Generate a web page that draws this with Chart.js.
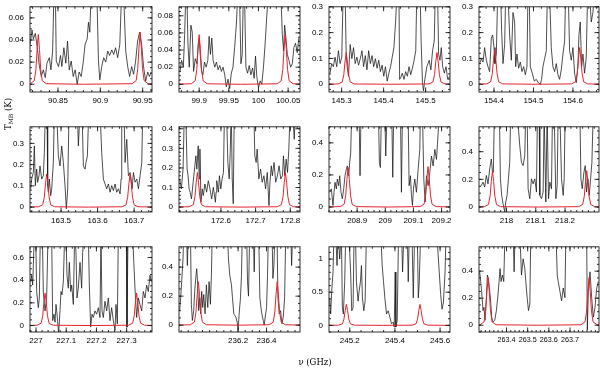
<!DOCTYPE html>
<html><head><meta charset="utf-8">
<script src="https://cdn.jsdelivr.net/npm/chart.js@4.4.1/dist/chart.umd.min.js"></script>
<style>
html,body{margin:0;padding:0;width:600px;height:368px;overflow:hidden;background:#fff;position:relative;}
canvas{position:absolute;}
.t{position:absolute;font-family:"DejaVu Serif",serif;font-size:8.5px;color:#000;white-space:nowrap;text-align:center;opacity:0.99;will-change:transform;}
.t sub{font-size:6px;vertical-align:-2px;}
</style></head><body>
<div class="t" style="left:-22px;top:108px;width:60px;height:12px;line-height:12px;transform:rotate(-90deg);">T<sub>MB</sub> (K)</div>
<div class="t" style="left:285px;top:356px;width:60px;height:12px;line-height:12px;">ν (GHz)</div>
<script>
// ---------- observed spectra [frequency GHz, T_MB K] ----------
const spec1 = [[90.8171,0.036],[90.8194,0.049],[90.8210,0.041],[90.8233,0.046],[90.8256,0.033],[90.8280,0.017],[90.8303,0.007],[90.8327,0.013],[90.8350,0.006],[90.8370,0.019],[90.8398,0.024],[90.8417,0.013],[90.8437,0.030],[90.8452,0.08],[90.8470,0.08],[90.8480,0.021],[90.8507,0.016],[90.8530,0.026],[90.8546,0.016],[90.8570,0.033],[90.8593,0.019],[90.8613,0.039],[90.8633,0.013],[90.8656,0.021],[90.8680,0.007],[90.8703,0.013],[90.8727,0.000],[90.8750,0.011],[90.8774,0.007],[90.8797,0.019],[90.8820,0.036],[90.8845,0.041],[90.8860,0.056],[90.8876,0.047],[90.8890,0.08],[90.8960,0.08],[90.8978,0.021],[90.8994,0.004],[90.9017,0.016],[90.9040,0.024],[90.9064,0.020],[90.9088,0.030],[90.9110,0.026],[90.9135,0.031],[90.9158,0.027],[90.9180,0.033],[90.9205,0.024],[90.9230,0.036],[90.9250,0.08],[90.9276,0.08],[90.9300,0.030],[90.9323,0.016],[90.9346,0.007],[90.9370,0.016],[90.9393,0.009],[90.9417,0.021],[90.9440,0.039],[90.9464,0.047],[90.9488,0.036],[90.9510,0.016],[90.9535,0.003],[90.9560,0.011],[90.9580,0.007],[90.9600,0.011]];
const spec2 = [[99.8677,0.015],[99.8705,0.028],[99.8733,0.020],[99.8755,0.058],[99.8772,0.1],[99.8794,0.1],[99.8811,0.047],[99.8833,0.020],[99.8861,0.069],[99.8883,0.061],[99.8906,0.015],[99.8934,0.030],[99.8962,0.024],[99.8984,0.047],[99.9001,0.054],[99.9017,0.035],[99.9040,0.015],[99.9062,0.011],[99.9090,0.026],[99.9118,0.020],[99.9146,0.028],[99.9168,0.056],[99.9190,0.035],[99.9213,0.054],[99.9235,0.028],[99.9263,0.020],[99.9291,0.026],[99.9319,0.017],[99.9347,0.022],[99.9375,0.015],[99.9403,0.020],[99.9431,0.011],[99.9458,-0.003],[99.9486,0.006],[99.9514,-0.005],[99.9542,0.013],[99.9570,0.020],[99.9598,0.043],[99.9626,0.069],[99.9648,0.1],[99.9682,0.1],[99.9704,0.024],[99.9726,0.035],[99.9743,0.1],[99.9766,0.1],[99.9788,0.020],[99.9816,0.013],[99.9844,0.022],[99.9872,0.011],[99.9900,0.019],[99.9927,0.007],[99.9950,0.033],[99.9972,0.009],[100.0000,-0.004],[100.0028,0.004],[100.0056,0.000],[100.0084,0.020],[100.0112,0.047],[100.0140,0.080],[100.0162,0.1],[100.0380,0.1],[100.0402,0.058],[100.0424,0.039],[100.0441,0.069],[100.0463,0.054],[100.0486,0.035],[100.0514,0.028],[100.0542,0.020],[100.0570,0.024],[100.0597,0.043],[100.0625,0.048],[100.0653,0.037],[100.0681,0.054]];
const spec3 = [[145.2724,0.043],[145.2764,0.080],[145.2804,0.068],[145.2844,0.105],[145.2884,0.068],[145.2924,0.130],[145.2964,0.080],[145.3004,0.105],[145.3036,0.35],[145.3084,0.35],[145.3108,0.123],[145.3132,0.068],[145.3164,0.031],[145.3204,0.154],[145.3244,0.099],[145.3284,0.142],[145.3324,0.080],[145.3364,0.105],[145.3404,0.074],[145.3444,0.099],[145.3484,0.130],[145.3524,0.068],[145.3564,0.111],[145.3604,0.056],[145.3644,0.130],[145.3684,0.080],[145.3724,0.111],[145.3764,0.068],[145.3804,0.099],[145.3844,0.062],[145.3884,0.093],[145.3924,0.049],[145.3964,0.074],[145.4004,0.031],[145.4044,0.068],[145.4085,0.012],[145.4125,0.043],[145.4165,0.068],[145.4205,0.105],[145.4245,0.142],[145.4285,0.241],[145.4317,0.35],[145.4365,0.35],[145.4381,0.019],[145.4405,0.025],[145.4445,0.043],[145.4485,0.019],[145.4525,0.049],[145.4565,0.031],[145.4605,0.068],[145.4645,0.037],[145.4685,0.062],[145.4725,0.093],[145.4765,0.130],[145.4789,0.35],[145.4869,0.35],[145.4893,0.167],[145.4925,0.006],[145.4949,-0.025],[145.4981,0.019],[145.5029,0.068],[145.5085,0.093],[145.5125,0.056],[145.5165,0.130],[145.5205,0.167],[145.5229,0.35],[145.5285,0.35],[145.5309,0.117],[145.5341,0.093],[145.5373,0.142],[145.5405,0.068],[145.5445,0.043],[145.5485,0.068],[145.5525,0.019],[145.5573,0.031]];
const spec4 = [[154.3637,0.080],[154.3679,0.099],[154.3721,0.086],[154.3763,0.142],[154.3806,0.093],[154.3848,0.068],[154.3890,0.049],[154.3932,0.179],[154.3966,0.191],[154.4000,0.142],[154.4025,0.080],[154.4059,0.117],[154.4093,0.35],[154.4169,0.35],[154.4194,0.204],[154.4228,0.080],[154.4270,0.154],[154.4295,0.35],[154.4354,0.35],[154.4396,0.191],[154.4439,0.093],[154.4481,0.278],[154.4523,0.241],[154.4548,0.068],[154.4582,0.117],[154.4624,0.062],[154.4666,0.086],[154.4709,0.049],[154.4751,0.068],[154.4793,0.037],[154.4835,0.068],[154.4860,0.35],[154.4894,0.35],[154.4920,0.068],[154.4970,0.043],[154.5021,0.012],[154.5071,0.019],[154.5122,0.006],[154.5173,0.000],[154.5206,0.019],[154.5240,0.068],[154.5282,0.099],[154.5325,0.130],[154.5350,0.35],[154.5409,0.35],[154.5451,0.142],[154.5493,0.068],[154.5536,0.049],[154.5578,0.080],[154.5620,0.037],[154.5662,0.019],[154.5704,0.056],[154.5747,0.117],[154.5789,0.167],[154.5814,0.35],[154.5882,0.35],[154.5915,0.130],[154.5958,0.093],[154.6000,0.142],[154.6042,0.043],[154.6084,0.006],[154.6126,0.068],[154.6152,0.191],[154.6185,0.241],[154.6220,0.068],[154.6253,0.117],[154.6295,0.043],[154.6337,0.105],[154.6371,0.35],[154.6422,0.35],[154.6464,0.241],[154.6506,0.278],[154.6540,0.35],[154.6641,0.35]];
const spec5 = [[163.4168,0.086],[163.4196,0.132],[163.4241,0.163],[163.4269,0.288],[163.4296,0.101],[163.4333,0.179],[163.4360,0.117],[163.4397,0.148],[163.4424,0.194],[163.4470,0.132],[163.4515,0.148],[163.4543,0.257],[163.4570,0.45],[163.4616,0.45],[163.4634,0.101],[163.4652,0.070],[163.4680,0.132],[163.4716,0.054],[163.4744,0.086],[163.4789,0.210],[163.4817,0.45],[163.4881,0.45],[163.4926,0.241],[163.4972,0.194],[163.5018,0.288],[163.5063,0.210],[163.5109,0.101],[163.5145,-0.008],[163.5182,0.086],[163.5218,0.45],[163.5447,0.45],[163.5474,0.288],[163.5520,0.45],[163.5575,0.45],[163.5611,0.194],[163.5657,0.179],[163.5684,0.210],[163.5721,0.241],[163.5757,0.45],[163.6068,0.45],[163.6113,0.257],[163.6159,0.132],[163.6205,0.109],[163.6250,0.086],[163.6296,0.109],[163.6342,0.070],[163.6387,0.101],[163.6433,0.078],[163.6479,0.109],[163.6524,0.070],[163.6570,0.086],[163.6616,0.062],[163.6643,0.132],[163.6661,0.45],[163.6725,0.45],[163.6753,0.210],[163.6799,0.319],[163.6844,0.148],[163.6890,0.163],[163.6918,0.132],[163.6945,0.086],[163.6982,0.163],[163.7027,0.117],[163.7073,0.132],[163.7119,0.086],[163.7164,0.148],[163.7210,0.210],[163.7237,0.45],[163.7474,0.45]];
const spec6 = [[172.4809,0.144],[172.4858,0.093],[172.4907,0.194],[172.4946,0.5],[172.4984,0.5],[172.5023,0.194],[172.5052,0.160],[172.5082,0.093],[172.5111,0.076],[172.5150,0.042],[172.5198,0.127],[172.5247,0.211],[172.5276,0.262],[172.5305,0.194],[172.5344,0.313],[172.5373,0.144],[172.5393,0.296],[172.5422,0.025],[172.5461,0.093],[172.5490,0.059],[172.5538,0.118],[172.5587,0.076],[172.5635,0.135],[172.5684,0.093],[172.5733,0.042],[172.5781,0.101],[172.5840,0.025],[172.5859,0.076],[172.5878,0.135],[172.5927,0.076],[172.5956,0.160],[172.5995,0.093],[172.6034,0.144],[172.6073,0.177],[172.6102,0.5],[172.6160,0.5],[172.6199,0.228],[172.6238,0.144],[172.6267,0.279],[172.6296,0.5],[172.6325,0.144],[172.6355,0.017],[172.6384,0.5],[172.6948,0.5],[172.6977,0.262],[172.7015,0.228],[172.7045,0.296],[172.7093,0.144],[172.7142,0.194],[172.7190,0.127],[172.7239,0.160],[172.7288,0.093],[172.7336,0.177],[172.7385,0.008],[172.7414,0.127],[172.7453,0.211],[172.7482,0.160],[172.7531,0.228],[172.7579,0.127],[172.7628,0.160],[172.7677,0.211],[172.7725,0.144],[172.7774,0.160],[172.7803,0.262],[172.7842,0.160],[172.7881,0.245],[172.7920,0.177],[172.7958,0.296],[172.7997,0.5],[172.8065,0.5],[172.8114,0.346],[172.8153,0.5],[172.8269,0.5]];
const spec7 = [[208.8024,0.092],[208.8083,0.113],[208.8142,0.010],[208.8178,0.092],[208.8214,0.154],[208.8261,0.113],[208.8297,0.174],[208.8344,0.133],[208.8380,0.195],[208.8427,0.092],[208.8474,0.051],[208.8522,0.113],[208.8569,0.195],[208.8617,0.236],[208.8652,0.256],[208.8700,0.195],[208.8735,0.277],[208.8771,0.338],[208.8807,0.6],[208.9068,0.6],[208.9103,0.195],[208.9139,0.6],[208.9756,0.6],[208.9791,0.277],[208.9827,0.246],[208.9862,0.6],[208.9981,0.6],[209.0017,0.318],[209.0064,0.6],[209.0230,0.6],[209.0266,0.185],[209.0301,0.6],[209.0539,0.6],[209.0574,0.092],[209.0610,0.6],[209.0811,0.6],[209.0847,0.133],[209.0894,0.195],[209.0930,0.072],[209.0966,0.010],[209.1001,0.113],[209.1049,0.174],[209.1108,0.092],[209.1168,0.236],[209.1227,0.359],[209.1250,0.6],[209.1321,0.6],[209.1369,0.174],[209.1416,0.031],[209.1464,0.195],[209.1523,0.133],[209.1582,0.215],[209.1642,0.318],[209.1701,0.256],[209.1760,0.359],[209.1820,0.297],[209.1879,0.462],[209.1926,0.6],[209.2282,0.6]];
const spec8 = [[217.9083,0.144],[217.9140,0.156],[217.9197,0.180],[217.9254,0.144],[217.9311,0.228],[217.9368,0.168],[217.9425,0.275],[217.9482,0.347],[217.9517,0.263],[217.9551,0.251],[217.9585,0.7],[217.9756,0.7],[217.9791,0.204],[217.9836,0.084],[217.9882,0.024],[217.9939,-0.036],[217.9973,0.036],[218.0019,0.084],[218.0065,0.204],[218.0110,0.323],[218.0144,0.7],[218.0361,0.7],[218.0453,0.443],[218.0510,0.323],[218.0567,0.299],[218.0624,0.371],[218.0658,0.7],[218.0704,0.7],[218.0738,0.132],[218.0795,0.060],[218.0852,0.204],[218.0909,0.168],[218.0966,0.204],[218.1023,0.108],[218.1058,0.7],[218.1115,0.7],[218.1138,0.084],[218.1195,0.060],[218.1252,0.108],[218.1286,0.7],[218.1343,0.036],[218.1389,0.7],[218.1434,0.060],[218.1480,0.180],[218.1537,0.132],[218.1571,0.7],[218.1628,0.7],[218.1686,0.060],[218.1731,0.156],[218.1765,0.7],[218.1822,0.7],[218.1879,0.204],[218.1937,0.084],[218.1971,0.204],[218.2005,0.7],[218.2507,0.7],[218.2542,0.204],[218.2587,0.132],[218.2644,0.251],[218.2690,0.299],[218.2736,0.108],[218.2781,0.204],[218.2827,0.084],[218.2873,0.204],[218.2918,0.323],[218.2964,0.7],[218.3158,0.7]];
const spec9 = [[226.9822,0.386],[226.9855,0.443],[226.9888,0.357],[226.9910,0.529],[226.9943,0.8],[226.9988,0.8],[227.0021,0.300],[227.0076,0.157],[227.0109,0.243],[227.0142,0.8],[227.0208,0.8],[227.0242,0.286],[227.0297,0.129],[227.0352,0.243],[227.0396,0.8],[227.0517,0.8],[227.0551,0.043],[227.0595,0.100],[227.0628,0.029],[227.0661,0.186],[227.0705,0.071],[227.0749,-0.071],[227.0793,0.129],[227.0826,0.300],[227.0860,0.271],[227.0904,0.386],[227.0948,0.8],[227.0992,0.8],[227.1025,0.443],[227.1069,0.329],[227.1102,0.557],[227.1147,0.300],[227.1180,0.357],[227.1235,0.186],[227.1279,0.8],[227.1323,0.643],[227.1356,0.243],[227.1400,0.329],[227.1456,0.557],[227.1511,0.329],[227.1544,0.643],[227.1588,0.8],[227.1732,0.8],[227.1765,0.357],[227.1809,-0.014],[227.1853,0.100],[227.1897,0.071],[227.1952,0.129],[227.2008,0.100],[227.2063,0.157],[227.2118,0.071],[227.2151,0.8],[227.2184,0.129],[227.2228,0.071],[227.2283,0.214],[227.2339,0.129],[227.2394,0.243],[227.2449,0.043],[227.2504,0.157],[227.2559,0.043],[227.2615,-0.043],[227.2648,0.186],[227.2692,0.014],[227.2725,0.8],[227.2990,0.8],[227.3012,-0.014],[227.3045,0.8],[227.3200,0.8],[227.3233,0.586],[227.3277,0.329],[227.3332,0.071],[227.3387,0.243],[227.3442,0.186],[227.3498,0.129],[227.3553,0.300],[227.3608,0.243],[227.3663,0.357],[227.3718,0.300],[227.3774,0.443],[227.3818,0.386]];
const spec10 = [[235.7897,0.100],[235.7967,0.189],[235.8038,0.300],[235.8132,0.456],[235.8202,0.7],[235.8366,0.7],[235.8437,0.411],[235.8531,0.7],[235.8648,0.7],[235.8719,0.144],[235.8789,0.033],[235.8883,0.100],[235.8953,0.233],[235.9024,0.322],[235.9094,0.389],[235.9165,0.278],[235.9235,0.100],[235.9305,0.189],[235.9376,0.078],[235.9446,0.233],[235.9517,0.122],[235.9587,0.211],[235.9681,0.078],[235.9775,0.278],[235.9869,0.122],[235.9963,0.300],[236.0057,0.144],[236.0127,0.344],[236.0197,0.7],[236.1230,0.7],[236.1324,0.456],[236.1418,0.344],[236.1535,0.278],[236.1606,0.189],[236.1700,0.078],[236.1841,0.056],[236.1935,0.022],[236.2005,-0.033],[236.2075,0.078],[236.2169,0.189],[236.2239,0.344],[236.2310,0.7],[236.2592,0.7],[236.2662,0.300],[236.2732,0.200],[236.2827,0.7],[236.3061,0.7],[236.3132,0.367],[236.3202,0.7],[236.3437,0.7],[236.3531,0.189],[236.3648,0.089],[236.3765,0.033],[236.3836,0.000],[236.3906,0.056],[236.4000,0.122],[236.4070,0.344],[236.4141,0.7],[236.4376,0.7],[236.4446,0.322],[236.4516,0.411],[236.4610,0.7],[236.4728,0.7],[236.4798,0.189],[236.4892,0.078],[236.4986,0.100],[236.5080,0.011],[236.5174,0.056],[236.5268,0.189],[236.5362,0.7],[236.5690,0.7],[236.5761,0.411],[236.5854,0.7],[236.6324,0.7]];
const spec11 = [[245.1110,0.415],[245.1154,0.171],[245.1199,0.512],[245.1258,0.805],[245.1302,1.4],[245.1376,1.4],[245.1436,0.902],[245.1480,1.4],[245.1554,1.0],[245.1628,1.4],[245.1673,0.268],[245.1717,0.171],[245.1776,0.659],[245.1821,1.4],[245.1939,1.4],[245.1999,1.098],[245.2043,0.756],[245.2087,0.220],[245.2147,0.268],[245.2191,1.4],[245.2250,1.4],[245.2295,0.659],[245.2369,0.366],[245.2413,0.512],[245.2473,0.659],[245.2517,0.902],[245.2561,0.415],[245.2621,0.220],[245.2680,0.366],[245.2739,1.4],[245.3376,1.4],[245.3436,0.902],[245.3495,0.659],[245.3554,0.415],[245.3628,0.171],[245.3702,0.220],[245.3776,0.122],[245.3850,0.024],[245.3924,0.049],[245.3969,-0.024],[245.4013,0.805],[245.4043,-0.024],[245.4102,0.073],[245.4161,1.4],[245.4295,1.4],[245.4339,0.805],[245.4399,1.4],[245.4547,1.4],[245.4591,0.659],[245.4636,1.4],[245.4754,1.4],[245.4813,0.415],[245.4873,1.4],[245.4991,1.4],[245.5036,0.415],[245.5080,0.659],[245.5139,1.4],[245.5850,1.4],[245.6028,0.463],[245.6087,0.244],[245.6147,0.341],[245.6221,0.805],[245.6265,1.4],[245.6428,1.4]];
const spec12 = [[263.2732,0.395],[263.2779,0.323],[263.2826,0.251],[263.2890,0.108],[263.2937,0.132],[263.2984,0.036],[263.3048,0.204],[263.3095,0.371],[263.3142,0.347],[263.3190,0.275],[263.3237,0.204],[263.3300,0.060],[263.3363,0.024],[263.3443,0.036],[263.3521,0.108],[263.3585,0.204],[263.3648,0.323],[263.3695,0.419],[263.3743,0.323],[263.3806,0.371],[263.3869,0.323],[263.3932,0.7],[263.4311,0.7],[263.4359,0.395],[263.4406,0.7],[263.4627,0.7],[263.4706,0.371],[263.4785,0.491],[263.4864,0.419],[263.4912,0.323],[263.4975,0.204],[263.5038,0.108],[263.5101,0.156],[263.5149,0.7],[263.6333,0.7],[263.6397,0.371],[263.6444,0.323],[263.6523,0.251],[263.6602,0.180],[263.6681,0.275],[263.6760,0.204],[263.6807,0.7],[263.7787,0.7],[263.7818,-0.036],[263.7866,0.251],[263.7945,0.395],[263.8024,0.204],[263.8103,0.060],[263.8182,0.132],[263.8261,0.275],[263.8340,0.323]];

// ---------- model spectra (red) ----------
const model1 = [[90.80,0],[90.8174,0.0005],[90.8221,0.0032],[90.8240,0.0135],[90.8254,0.0315],[90.8268,0.045],[90.8282,0.0315],[90.8296,0.0135],[90.8315,0.0032],[90.8362,0.0005],[90.88,0],[90.9376,0.0005],[90.9423,0.0033],[90.9442,0.0141],[90.9456,0.0329],[90.9470,0.047],[90.9484,0.0329],[90.9498,0.0141],[90.9517,0.0033],[90.9564,0.0005],[90.98,0]];
const model2 = [[99.85,0],[99.8866,0.0006],[99.8933,0.0041],[99.896,0.0174],[99.898,0.0406],[99.900,0.058],[99.902,0.0406],[99.904,0.0174],[99.9067,0.0041],[99.9134,0.0006],[99.97,0],[100.0316,0.0006],[100.0383,0.0041],[100.041,0.0174],[100.043,0.0406],[100.045,0.058],[100.047,0.0406],[100.049,0.0174],[100.0517,0.0041],[100.0584,0.0006],[100.09,0]];
const model3 = [[145.25,0],[145.2918,0.0012],[145.3014,0.0086],[145.3052,0.0369],[145.3081,0.0861],[145.311,0.123],[145.3139,0.0861],[145.3168,0.0369],[145.3206,0.0086],[145.3302,0.0012],[145.42,0],[145.5078,0.0012],[145.5174,0.0086],[145.5212,0.0369],[145.5241,0.0861],[145.527,0.123],[145.5299,0.0861],[145.5328,0.0369],[145.5366,0.0086],[145.5462,0.0012],[145.58,0]];
const model4 = [[154.34,0],[154.3815,0.0014],[154.3916,0.0095],[154.3956,0.0408],[154.3987,0.0952],[154.4017,0.136],[154.4047,0.0952],[154.4078,0.0408],[154.4118,0.0095],[154.4219,0.0014],[154.51,0],[154.5968,0.0014],[154.6069,0.0099],[154.6109,0.0426],[154.614,0.0994],[154.617,0.142],[154.62,0.0994],[154.6231,0.0426],[154.6271,0.0099],[154.6372,0.0014],[154.69,0]];
const model5 = [[163.40,0],[163.4388,0.0016],[163.4497,0.0109],[163.4541,0.0468],[163.4574,0.1092],[163.4607,0.156],[163.464,0.1092],[163.4673,0.0468],[163.4717,0.0109],[163.4826,0.0016],[163.575,0],[163.6671,0.0016],[163.678,0.0109],[163.6824,0.0468],[163.6857,0.1092],[163.689,0.156],[163.6923,0.1092],[163.6956,0.0468],[163.70,0.0109],[163.7109,0.0016],[163.77,0]];
const model6 = [[172.46,0],[172.5086,0.0018],[172.5203,0.0124],[172.525,0.0531],[172.5285,0.1239],[172.532,0.177],[172.5355,0.1239],[172.539,0.0531],[172.5437,0.0124],[172.5554,0.0018],[172.66,0],[172.7626,0.0018],[172.7743,0.0124],[172.779,0.0531],[172.7825,0.1239],[172.786,0.177],[172.7895,0.1239],[172.793,0.0531],[172.7977,0.0124],[172.8094,0.0018],[172.85,0]];
const model7 = [[208.78,0],[208.8395,0.0025],[208.8538,0.0172],[208.8595,0.0738],[208.8637,0.1722],[208.868,0.246],[208.8723,0.1722],[208.8765,0.0738],[208.8822,0.0172],[208.8965,0.0025],[209.01,0],[209.1235,0.0025],[209.1378,0.0176],[209.1435,0.0756],[209.1477,0.1764],[209.152,0.252],[209.1563,0.1764],[209.1605,0.0756],[209.1662,0.0176],[209.1805,0.0025],[209.25,0]];
const model8 = [[217.88,0],[217.9246,0.0026],[217.9383,0.0184],[217.9438,0.0789],[217.9479,0.1841],[217.952,0.263],[217.9561,0.1841],[217.9602,0.0789],[217.9657,0.0184],[217.9794,0.0026],[218.11,0],[218.2466,0.0026],[218.2603,0.0184],[218.2658,0.0789],[218.2699,0.1841],[218.274,0.263],[218.2781,0.1841],[218.2822,0.0789],[218.2877,0.0184],[218.3014,0.0026],[218.34,0]];
const model9 = [[226.96,0],[227.0035,0.0029],[227.0168,0.02],[227.0221,0.0858],[227.026,0.2002],[227.03,0.286],[227.034,0.2002],[227.0379,0.0858],[227.0432,0.02],[227.0565,0.0029],[227.18,0],[227.3065,0.0029],[227.3198,0.02],[227.3251,0.0858],[227.329,0.2002],[227.333,0.286],[227.337,0.2002],[227.3409,0.0858],[227.3462,0.02],[227.3595,0.0029],[227.40,0]];
const model10 = [[235.75,0],[235.8647,0.003],[235.8928,0.021],[235.9041,0.09],[235.9126,0.21],[235.921,0.30],[235.9294,0.21],[235.9379,0.09],[235.9492,0.021],[235.9773,0.003],[236.2,0],[236.4187,0.003],[236.4468,0.021],[236.4581,0.09],[236.4666,0.21],[236.475,0.30],[236.4834,0.21],[236.4919,0.09],[236.5032,0.021],[236.5313,0.003],[236.66,0]];
const model11 = [[245.09,0],[245.1495,0.0032],[245.1672,0.0222],[245.1743,0.0951],[245.1797,0.2219],[245.185,0.317],[245.1903,0.2219],[245.1957,0.0951],[245.2028,0.0222],[245.2205,0.0032],[245.35,0],[245.4755,0.0032],[245.4932,0.0222],[245.5003,0.0951],[245.5057,0.2219],[245.511,0.317],[245.5163,0.2219],[245.5217,0.0951],[245.5288,0.0222],[245.5465,0.0032],[245.66,0]];
const model12 = [[263.25,0],[263.2751,0.0035],[263.294,0.0246],[263.3016,0.1056],[263.3073,0.2464],[263.313,0.352],[263.3187,0.2464],[263.3244,0.1056],[263.332,0.0246],[263.3509,0.0035],[263.55,0],[263.7521,0.0035],[263.771,0.0246],[263.7786,0.1056],[263.7843,0.2464],[263.79,0.352],[263.7957,0.2464],[263.8014,0.1056],[263.809,0.0246],[263.8279,0.0035],[263.86,0]];

// ---------- tick labels ----------
const xTicks = [[90.85,90.9,90.95],[99.9,99.95,100,100.05],[145.3,145.4,145.5],[154.4,154.5,154.6],
  [163.5,163.6,163.7],[172.6,172.7,172.8],[208.9,209,209.1,209.2],[218,218.1,218.2],
  [227,227.1,227.2,227.3],[236.2,236.4],[245.2,245.4,245.6],[263.4,263.5,263.6,263.7]];
const yTicks = [[0,0.02,0.04,0.06],[0,0.02,0.04,0.06,0.08],[0,0.1,0.2,0.3],[0,0.1,0.2,0.3],
  [0,0.1,0.2,0.3],[0,0.1,0.2,0.3,0.4],[0,0.2,0.4],[0,0.2,0.4],
  [0,0.2,0.4,0.6],[0,0.2,0.4],[0,0.5,1],[0,0.2,0.4]];
const xRanges = [[90.817,90.961],[99.866,100.070],[145.270,145.558],[154.362,154.666],
  [163.415,163.749],[172.479,172.828],[208.800,209.230],[217.906,218.316],
  [226.980,227.384],[235.785,236.635],[245.108,245.644],[263.270,263.837]];
const yRanges = [[-0.007,0.07],[-0.009,0.0905],[-0.03,0.3],[-0.03,0.3],
  [-0.023,0.378],[-0.025,0.41],[-0.031,0.5],[-0.036,0.58],
  [-0.057,0.694],[-0.047,0.54],[-0.1,1.185],[-0.05,0.58]];
const xMinor = [0.01,0.01,0.02,0.02,0.02,0.02,0.02,0.02,0.02,0.05,0.05,0.02];
const yMinor = [0.005,0.005,0.02,0.02,0.02,0.02,0.05,0.05,0.05,0.05,0.1,0.05];
const xFontSize = [8,8,8,8,8,8,8,8,8,8,8,7.2];

const specs = [spec1,spec2,spec3,spec4,spec5,spec6,spec7,spec8,spec9,spec10,spec11,spec12];
const models = [model1,model2,model3,model4,model5,model6,model7,model8,model9,model10,model11,model12];

// ---------- layout ----------
const colLeft = [30,179,329,479], colWidth = [122,121,121,120];
const rowTop = [4,124,244], rowHeight = 88;
const AXW = 30, AXH = 18, PADT = 8, PADR = 18, PADB = 2;

const framePlugin = {
  id: 'frame',
  afterDatasetsDraw(chart) {
    const o = chart.options.plugins.frame;
    const {ctx, chartArea: a} = chart;
    const xs = chart.scales.x, ys = chart.scales.y;
    ctx.save();
    ctx.strokeStyle = '#1a1a1a';
    ctx.lineWidth = 0.9;
    ctx.strokeRect(a.left, a.top, a.right - a.left, a.bottom - a.top);
    ctx.beginPath();
    const tickX = (v, len) => { const p = xs.getPixelForValue(v);
      ctx.moveTo(p, a.bottom); ctx.lineTo(p, a.bottom - len);
      ctx.moveTo(p, a.top); ctx.lineTo(p, a.top + len); };
    const tickY = (v, len) => { const p = ys.getPixelForValue(v);
      ctx.moveTo(a.left, p); ctx.lineTo(a.left + len, p);
      ctx.moveTo(a.right, p); ctx.lineTo(a.right - len, p); };
    for (let k = Math.ceil(xs.min / o.xm - 1e-6); k * o.xm <= xs.max; k++) tickX(k * o.xm, 2);
    for (let k = Math.ceil(ys.min / o.ym - 1e-6); k * o.ym <= ys.max; k++) tickY(k * o.ym, 2);
    o.xt.forEach(v => tickX(v, 4.5));
    o.yt.forEach(v => tickY(v, 4.5));
    ctx.stroke();
    ctx.restore();
  }
};

const fontFamily = '"Liberation Sans", Arial, sans-serif';

for (let i = 0; i < 12; i++) {
  const col = i % 4, row = Math.floor(i / 4);
  const W = colWidth[col], H = rowHeight;
  const c = document.createElement('canvas');
  const cw = W + AXW + PADR, ch = H + PADT + AXH + PADB;
  c.width = cw; c.height = ch;
  c.style.width = cw + 'px'; c.style.height = ch + 'px';
  c.style.left = (colLeft[col] - AXW) + 'px';
  c.style.top = (rowTop[row] - PADT) + 'px';
  document.body.appendChild(c);
  const xt = xTicks[i], yt = yTicks[i];
  new Chart(c, {
    type: 'line',
    data: {
      datasets: [
        {data: models[i].map(p => ({x: p[0], y: p[1]})), borderColor: '#e3262e', borderWidth: 1, pointRadius: 0, tension: 0},
        {data: specs[i].map(p => ({x: p[0], y: p[1]})), borderColor: '#151515', borderWidth: 0.75, pointRadius: 0, tension: 0}
      ]
    },
    options: {
      responsive: false, animation: false, devicePixelRatio: 1,
      layout: {padding: {left: 0, top: PADT, right: PADR, bottom: PADB}},
      plugins: {legend: {display: false}, tooltip: {enabled: false},
        frame: {xt: xt, yt: yt, xm: xMinor[i], ym: yMinor[i]}},
      scales: {
        x: {type: 'linear', min: xRanges[i][0], max: xRanges[i][1],
          afterBuildTicks: s => { s.ticks = xt.map(v => ({value: v})); },
          afterFit: s => { s.height = AXH; },
          grid: {display: false, drawTicks: false}, border: {display: false},
          ticks: {font: {family: fontFamily, size: xFontSize[i]}, color: '#000', padding: 4, maxRotation: 0, autoSkip: false,
            callback: v => String(v)}},
        y: {type: 'linear', min: yRanges[i][0], max: yRanges[i][1],
          afterBuildTicks: s => { s.ticks = yt.map(v => ({value: v})); },
          afterFit: s => { s.width = AXW; },
          grid: {display: false, drawTicks: false}, border: {display: false},
          ticks: {font: {family: fontFamily, size: 8}, color: '#000', padding: 6, autoSkip: false,
            callback: v => String(v)}}
      }
    },
    plugins: [framePlugin]
  });
}
</script>
</body></html>
